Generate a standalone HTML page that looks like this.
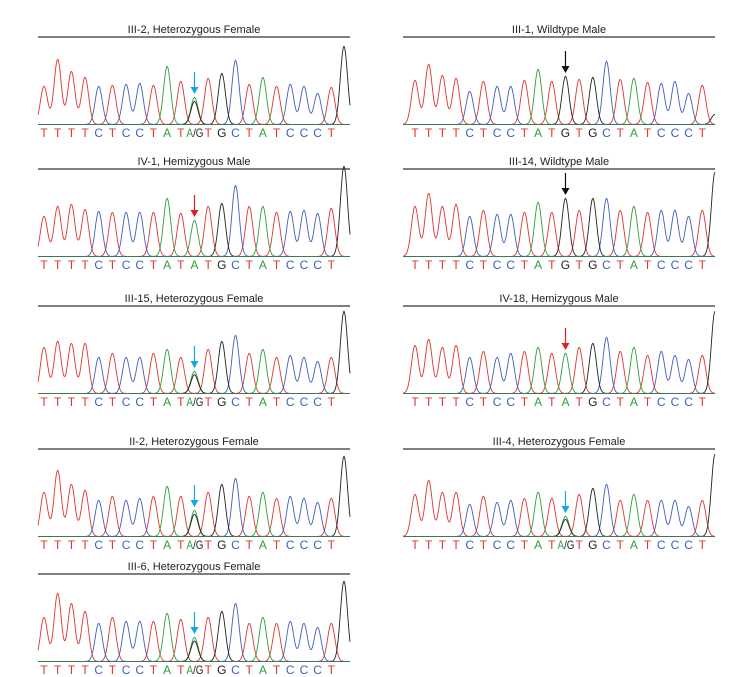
<!DOCTYPE html>
<html><head><meta charset="utf-8"><style>
body{margin:0;background:#fff;width:751px;height:677px;overflow:hidden;font-family:"Liberation Sans",sans-serif}
svg{display:block}
</style></head><body>
<svg id="fig" width="751" height="677" viewBox="0 0 751 677"></svg>
<script>
const panelTitles=["III-2, Heterozygous Female","IV-1, Hemizygous Male","III-15, Heterozygous Female","II-2, Heterozygous Female","III-6, Heterozygous Female","III-1, Wildtype Male","III-14, Wildtype Male","IV-18, Hemizygous Male","III-4, Heterozygous Female"];
const panelTypes=["het","hemi","het","het","het","wt","wt","hemi","het"];
const panelCols=[0,0,0,0,0,1,1,1,1];
const panelTitleY=[29,161,298,441,566,29,161,298,441];
const wtSeq=["T","T","T","T","C","T","C","C","T","A","T","G","T","G","C","T","A","T","C","C","C","T"];
const peakHeights=[
 [38,65,53,47,38,39,40,41,39,58,43,27,46,51,64,40,47,38,40,38,31,37,78],
 [40,50,52,47,45,44,44,44,44,58,43,36,50,53,71,50,50,44,45,46,43,48,90],
 [46,52,50,50,36,40,36,36,40,44,36,22,44,52,58,40,44,36,38,36,32,36,82],
 [44,66,52,46,36,40,36,38,40,50,40,26,44,52,58,40,44,38,40,38,34,38,80],
 [44,68,58,50,38,44,40,40,40,48,42,24,44,50,58,38,44,38,40,38,34,38,80],
 [44,60,49,46,33,43,38,38,44,55,43,48,45,47,63,45,46,42,41,43,31,39,10],
 [50,63,50,52,40,46,42,42,44,54,44,58,46,58,58,46,50,44,46,46,40,46,84],
 [48,54,46,48,36,42,36,40,42,46,40,40,46,50,56,42,46,38,42,38,34,38,82],
 [42,56,44,44,32,40,34,36,38,44,38,20,42,48,52,36,42,36,36,36,30,36,82]
];
const colors={T:"#e0342f",C:"#3f5fbf",A:"#2f9e3a",G:"#222222"};
const arrowColors={het:"#19a6e0",hemi:"#e02020",wt:"#111111"};
const NS="http://www.w3.org/2000/svg";
const svg=document.getElementById('fig');
function mk(tag,attrs,parent){const e=document.createElementNS(NS,tag);for(const k in attrs)e.setAttribute(k,attrs[k]);(parent||svg).appendChild(e);return e;}
const colX=[{x0:38,x1:350,first:44},{x0:403,x1:715,first:415}];
const spacing=13.68;
panelTitles.forEach((title,p)=>{
  const g=mk('g',{});
  
  
  const c=colX[panelCols[p]];const ty=panelTitleY[p];
  const t=mk('text',{x:(c.x0+c.x1)/2,y:ty+4,'text-anchor':'middle','font-size':'11',fill:'#222'},g);
  t.textContent=title;
  
  
  const ln=mk('line',{x1:c.x0,x2:c.x1,y1:ty+8,y2:ty+8,stroke:'#333','stroke-width':'1.3'},g);
  
  
  const base=ty+96;
  const type=panelTypes[p];const hs=peakHeights[p];
  const n=22;
  const callAt=i=>i===11?(type==="wt"?"G":"A"):wtSeq[i];
  const peaks=[];
  for(let i=0;i<n;i++){
    const x=c.first+i*spacing;
    if(i===11&&type==="het"){peaks.push({x,h:hs[11],b:"A"});peaks.push({x,h:hs[11]*0.85,b:"G"});}
    else peaks.push({x,h:hs[i],b:callAt(i)});
  }
  peaks.push({x:c.first+22*spacing-1,h:hs[22],b:"G"});
  ["T","C","A","G"].forEach(b=>{
    let d="";
    for(let x=c.x0;x<=c.x1;x+=0.5){
      let y=0.6;
      peaks.forEach(pk=>{if(pk.b===b){const dx=(x-pk.x)/3.6;y+=pk.h*Math.exp(-dx*dx/2);}});
      d+=(d?"L":"M")+x.toFixed(1)+","+(base-y).toFixed(1);
    }
    const path=mk('path',{d,fill:'none',stroke:colors[b],'stroke-width':'0.9'},g);
    
    
  });
  const bl=mk('line',{x1:c.x0,x2:c.x1,y1:base-0.5,y2:base-0.5,stroke:'#3a7a5a','stroke-width':'1'},g);
  
  
  for(let i=0;i<n;i++){
    const x=c.first+i*spacing;
    if(i===11&&type==="het"){
      const tx=mk('text',{x:x-8,y:base+12,'font-size':'12',fill:colors.A,textLength:'17',lengthAdjust:'spacingAndGlyphs'},g);
      tx.innerHTML='A<tspan fill="#222">/G</tspan>';
      
      
      continue;
    }
    const b=callAt(i);
    const tx=mk('text',{x:x,y:base+12,'text-anchor':'middle','font-size':'12',fill:colors[b]},g);
    tx.textContent=b;
    
    
  }
  const ax=c.first+11*spacing;const top=base-hs[11]-4;
  const ac=arrowColors[type];
  const ag=mk('g',{},g);
  
  
  mk('line',{x1:ax,x2:ax,y1:top-22,y2:top-5,stroke:ac,'stroke-width':'1.2'},ag);
  mk('path',{d:`M${ax-4},${top-7}L${ax+4},${top-7}L${ax},${top}Z`,fill:ac},ag);
});
</script>
</body></html>
